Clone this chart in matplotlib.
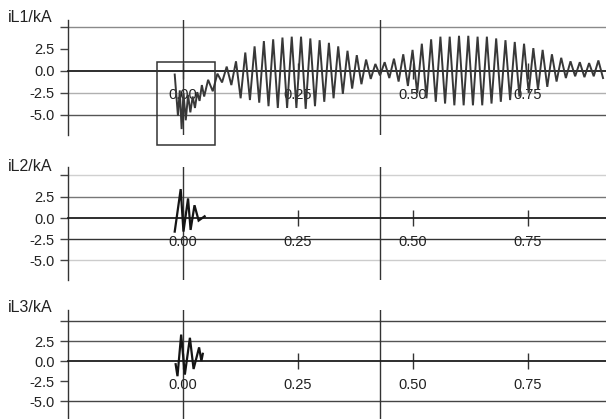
import matplotlib
matplotlib.use("Agg")
import matplotlib.pyplot as plt
from matplotlib.patches import Rectangle
import numpy as np

plt.rcParams['font.family'] = ['Liberation Sans', 'DejaVu Sans']

# ---------------- data ----------------
panel_labels = ["iL1/kA", "iL2/kA", "iL3/kA"]
x_ticks = [0.0, 0.25, 0.50, 0.75]
x_tick_labels = ["0.00", "0.25", "0.50", "0.75"]
y_ticks = [5.0, 2.5, 0.0, -2.5, -5.0]
y_tick_labels = ["", "2.5", "0.0", "-2.5", "-5.0"]
cursor_t = 0.428

# iL1: fault transient (inside the box)
il1_trans_t = [-0.018, -0.011, -0.007, -0.003, 0.001, 0.006, 0.011, 0.016,
               0.021, 0.026, 0.031, 0.036, 0.041, 0.046]
il1_trans_v = [-0.4, -5.1, -2.2, -6.6, -2.5, -5.6, -2.7, -4.7,
               -2.9, -4.2, -2.4, -3.4, -1.6, -2.9]
# iL1: beating 50 Hz oscillation afterwards, one peak and one trough per cycle
il1_first_peak_t = 0.0546
il1_period = 0.0202
il1_peaks = [-1.0, -0.3,
             0.5, 1.1, 2.1, 2.8, 3.4, 3.6, 3.8, 3.9, 3.9, 3.7,
             3.5, 3.2, 2.8, 2.3, 1.8, 1.3, 0.8, 1.0, 1.4, 1.9,
             2.4, 3.1, 3.6, 3.9, 3.9, 4.0, 4.0, 3.9, 3.9, 3.7, 3.5,
             3.3, 3.1, 2.6, 2.4, 1.9, 1.5, 1.1, 1.0, 0.9, 1.2]
il1_troughs = [-2.3, -1.3,
               -1.6, -3.1, -3.3, -3.6, -4.0, -4.2, -4.2, -4.2, -4.3, -4.0,
               -3.5, -3.1, -2.6, -2.0, -1.5, -0.9, -0.5, -0.8, -1.2, -1.7,
               -2.5, -3.1, -3.5, -3.7, -3.9, -3.9, -3.9, -3.9, -3.7, -3.5,
               -3.3, -2.9, -2.5, -2.1, -1.8, -1.2, -0.8, -0.6, -0.7, -0.6, -0.8]

# iL2 and iL3: short damped transients
il2_t = [-0.018, -0.005, 0.001, 0.011, 0.0165, 0.025, 0.034, 0.047]
il2_v = [-1.6, 3.4, -1.6, 2.3, -1.4, 1.5, -0.3, 0.2]
il3_t = [-0.016, -0.012, -0.004, 0.004, 0.015, 0.023, 0.035, 0.040, 0.043]
il3_v = [-0.4, -1.9, 3.3, -1.7, 2.9, -1.0, 1.7, 0.0, 0.9]

# build iL1 sequence (peaks/troughs alternate)
osc_t, osc_v = [], []
for k, (p, tr) in enumerate(zip(il1_peaks, il1_troughs)):
    osc_t += [il1_first_peak_t + k * il1_period, il1_first_peak_t + (k + 0.5) * il1_period]
    osc_v += [p, tr]
il1_t = il1_trans_t + osc_t
il1_v = il1_trans_v + osc_v

series = [(il1_t, il1_v), (il2_t, il2_v), (il3_t, il3_v)]

# ---------------- layout ----------------
W, H = 606, 419
fig = plt.figure(figsize=(W / 100, H / 100), dpi=100)
fig.patch.set_facecolor("white")

X0 = 183.0      # pixel of t = 0
PX_PER_S = 460.0
xlim = (-0.25, (W - X0) / PX_PER_S)

# (top px, bottom px, zero px, px per unit)
panels = [(20, 135, 71, 8.8), (167, 280, 218, 8.5), (310, 421, 361, 8.0)]
grid_styles = [
    {5.0: "#8a8a8a", -2.5: "#b0b0b0", -5.0: "#555555"},
    {5.0: "#d0d0d0", 2.5: "#777777", -2.5: "#333333", -5.0: "#cccccc"},
    {5.0: "#444444", 2.5: "#555555", -5.0: "#444444"},
]
label_y = [17, 166, 307]
line_colors = ["#383838", "#151515", "#151515"]
line_widths = [1.4, 1.6, 1.6]
TXT = "#222222"

for i, (top, bot, zero, ppu) in enumerate(panels):
    ax = fig.add_axes([68 / W, 1 - bot / H, (W - 68) / W, (bot - top) / H])
    ax.set_facecolor("none")
    ax.set_xlim(*xlim)
    ax.set_ylim(-(bot - zero) / ppu, (zero - top) / ppu)

    for lev, col in grid_styles[i].items():
        ax.axhline(lev, color=col, lw=1.0, zorder=1)
    ax.axvline(0.0, color="#333333", lw=1.0, zorder=2)
    ax.axvline(cursor_t, color="#333333", lw=1.0, zorder=2)

    for s in ("top", "right"):
        ax.spines[s].set_visible(False)
    ax.spines["left"].set_color("#333333")
    ax.spines["left"].set_linewidth(1.0)
    ax.spines["bottom"].set_position(("data", 0))
    ax.spines["bottom"].set_color("#1e1e1e")
    ax.spines["bottom"].set_linewidth(1.3)

    ax.set_yticks(y_ticks)
    ax.set_yticklabels(y_tick_labels)
    ax.tick_params(axis="y", direction="out", length=6, width=1.0, color="#444444",
                   labelsize=10.5, labelcolor=TXT, pad=3.5)
    ax.set_xticks(x_ticks)
    ax.set_xticklabels(x_tick_labels)
    ax.tick_params(axis="x", direction="inout", length=12, width=1.0, color="#333333",
                   labelsize=10.5, labelcolor=TXT, pad=6.5)

    t, v = series[i]
    ax.plot(t, v, color=line_colors[i], lw=line_widths[i], zorder=4,
            solid_joinstyle="miter")

    if i == 0:
        box_l = (157 - X0) / PX_PER_S
        box_r = (215 - X0) / PX_PER_S
        box_t = (zero - 62) / ppu
        box_b = (zero - 145) / ppu
        ax.add_patch(Rectangle((box_l, box_b), box_r - box_l, box_t - box_b,
                               fill=False, ec="#333333", lw=1.1, clip_on=False, zorder=5))

    fig.text(8 / W, 1 - label_y[i] / H, panel_labels[i], ha="left", va="center",
             fontsize=11.5, color=TXT)

fig.savefig("out.png", dpi=100, facecolor="white")
